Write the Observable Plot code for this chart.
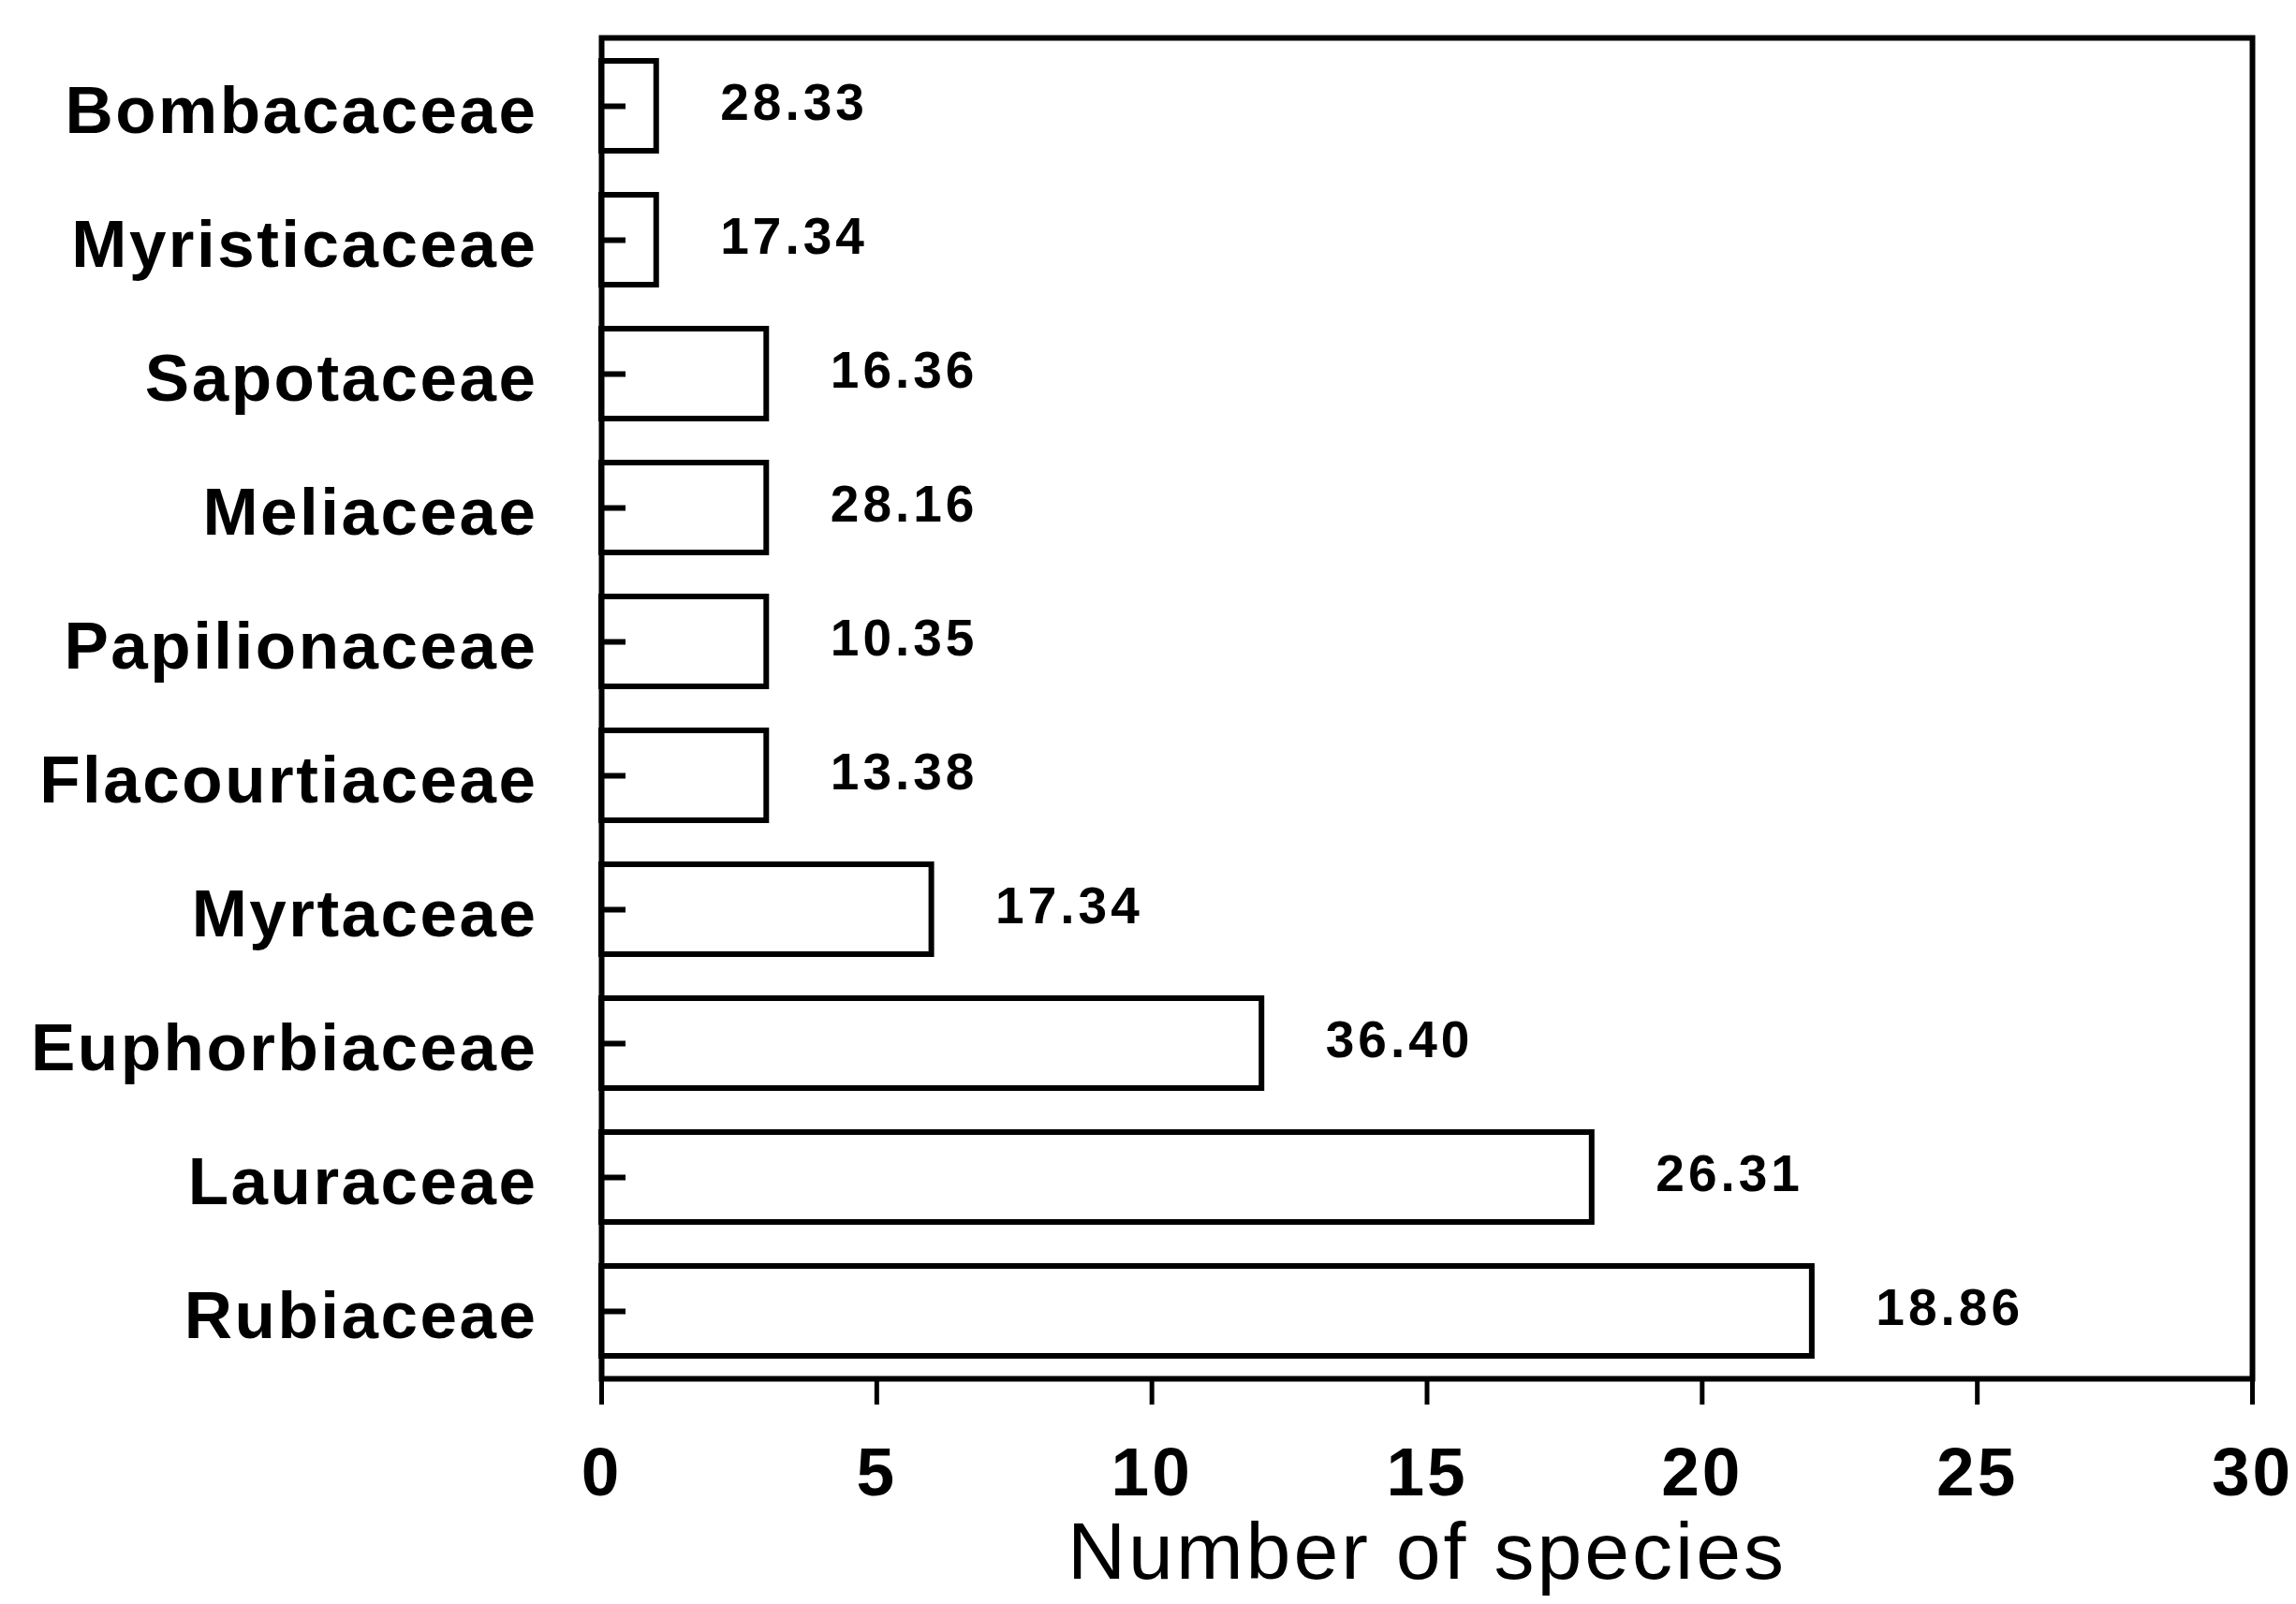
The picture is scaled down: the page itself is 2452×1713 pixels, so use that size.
<!DOCTYPE html>
<html>
<head>
<meta charset="utf-8">
<script src="https://cdn.jsdelivr.net/npm/d3@7"></script>
<script src="https://cdn.jsdelivr.net/npm/@observablehq/plot@0.6"></script>
<style>
  body { margin: 0; background: #fff; }
  #chart svg { font-family: "Liberation Sans", Arial, Helvetica, sans-serif; }
</style>
</head>
<body>
<div id="chart"></div>
<script>
const families = ["Bombacaceae", "Myristicaceae", "Sapotaceae", "Meliaceae", "Papilionaceae",
                  "Flacourtiaceae", "Myrtaceae", "Euphorbiaceae", "Lauraceae", "Rubiaceae"];
const speciesCounts = [1, 1, 3, 3, 3, 3, 6, 12, 18, 22];
const valueLabels = ["28.33", "17.34", "16.36", "28.16", "10.35", "13.38", "17.34", "36.40", "26.31", "18.86"];
const xTicks = [0, 5, 10, 15, 20, 25, 30];
const xLabel = "Number of species";

const data = families.map((f, i) => ({family: f, count: speciesCounts[i], label: valueLabels[i]}));

const chart = Plot.plot({
  width: 2452,
  height: 1713,
  marginLeft: 642,
  marginRight: 47,
  marginTop: 40,
  marginBottom: 241,
  style: {background: "white", color: "black", fontFamily: "'Liberation Sans', Arial, Helvetica, sans-serif", overflow: "visible"},
  x: {domain: [0, 30], ticks: xTicks},
  y: {domain: families, paddingInner: 0.33, paddingOuter: 0.16},
  marks: [
    Plot.barX(data, {x: "count", y: "family", fill: "white", stroke: "black", strokeWidth: 6}),
    Plot.frame({stroke: "black", strokeWidth: 6}),
    Plot.axisX({ticks: xTicks, tickSize: 28, tickPadding: 45, fontSize: 73, fontWeight: "bold", strokeWidth: 5, label: null}),
    Plot.axisY({tickSize: -26, strokeWidth: 6, text: null, label: null}),
    Plot.axisY({tickSize: 0, tickPadding: 68, fontSize: 71, fontWeight: "bold", dy: 6, label: null}),
    Plot.text(data, {x: "count", y: "family", text: "label", dx: 68, dy: -3, textAnchor: "start", fontSize: 55, fontWeight: "bold"}),
    Plot.text([xLabel], {text: d => d, frameAnchor: "bottom", dy: 186, fontSize: 86, lineAnchor: "middle"})
  ]
});

document.getElementById("chart").appendChild(chart);
const textGroups = d3.select(chart).selectAll('g[aria-label="text"]');
d3.select(textGroups.nodes()[textGroups.size() - 1]).style("letter-spacing", "3px");
d3.select(textGroups.nodes()[0]).style("letter-spacing", "4px");
d3.select(chart).selectAll('g[aria-label="y-axis tick label"]').style("letter-spacing", "2.5px");
d3.select(chart).selectAll('g[aria-label="x-axis tick label"]').style("letter-spacing", "3px");
</script>
</body>
</html>
